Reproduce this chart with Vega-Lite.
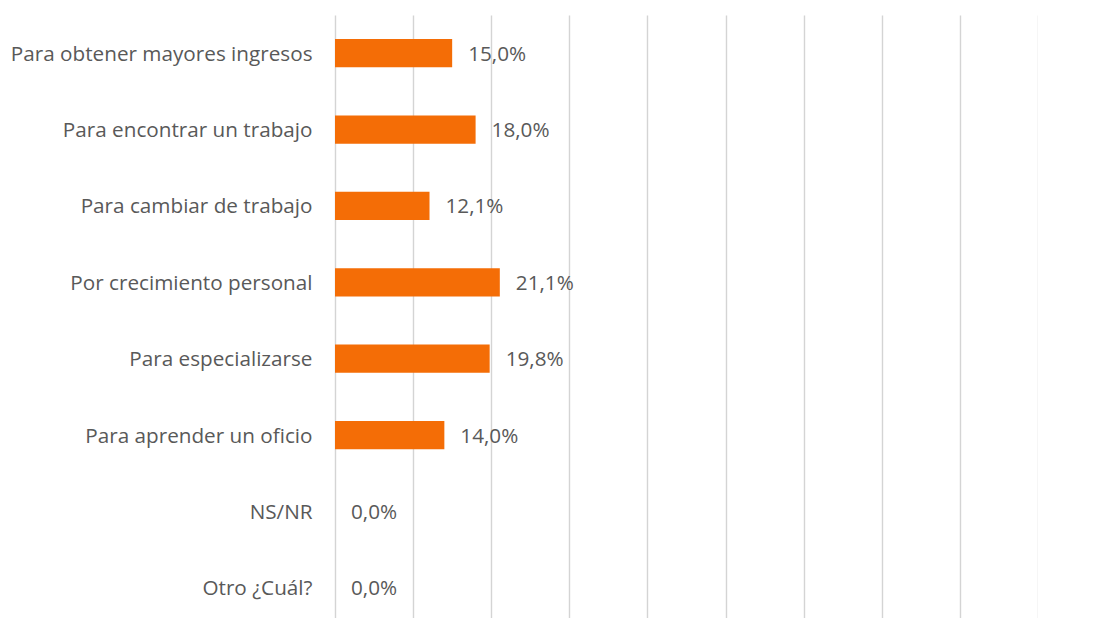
{
  "$schema": "https://vega.github.io/schema/vega-lite/v6.json",
  "autosize": {"type": "none"},
  "padding": {"left": 335, "top": 15, "right": 0, "bottom": 0},
  "width": 703,
  "height": 611,
  "background": "white",
  "config": {
    "view": {"stroke": null},
    "locale": {"number": {"decimal": ",", "thousands": ".", "grouping": [3], "currency": ["", " €"]}},
    "font": "Open Sans"
  },
  "data": {
    "values": [
      {"motivo": "Para obtener mayores ingresos", "valor": 0.150},
      {"motivo": "Para encontrar un trabajo", "valor": 0.180},
      {"motivo": "Para cambiar de trabajo", "valor": 0.121},
      {"motivo": "Por crecimiento personal", "valor": 0.211},
      {"motivo": "Para especializarse", "valor": 0.198},
      {"motivo": "Para aprender un oficio", "valor": 0.140},
      {"motivo": "NS/NR", "valor": 0.0},
      {"motivo": "Otro ¿Cuál?", "valor": 0.0}
    ]
  },
  "encoding": {
    "y": {
      "field": "motivo", "type": "nominal", "sort": null, "title": null,
      "scale": {"paddingInner": 0.63, "paddingOuter": 0.315},
      "axis": {"domain": false, "ticks": false, "labelPadding": 23, "labelOffset": 1.5, "labelFontSize": 20.7, "labelColor": "#595959", "labelFont": "Open Sans", "labelLimit": 400}
    },
    "x": {
      "field": "valor", "type": "quantitative", "title": null,
      "scale": {"domain": [0, 0.9], "nice": false},
      "axis": {"values": [0, 0.1, 0.2, 0.3, 0.4, 0.5, 0.6, 0.7, 0.8, 0.9], "labels": false, "ticks": false, "domain": false, "grid": true, "gridColor": "#d4d4d4", "gridWidth": 1.4}
    }
  },
  "layer": [
    {"mark": {"type": "bar", "color": "#f46d06"}},
    {
      "mark": {"type": "text", "align": "left", "dx": 16, "dy": 1.5, "fontSize": 20.7, "color": "#595959", "font": "Open Sans"},
      "encoding": {"text": {"field": "valor", "type": "quantitative", "format": ".1%"}}
    }
  ]
}
